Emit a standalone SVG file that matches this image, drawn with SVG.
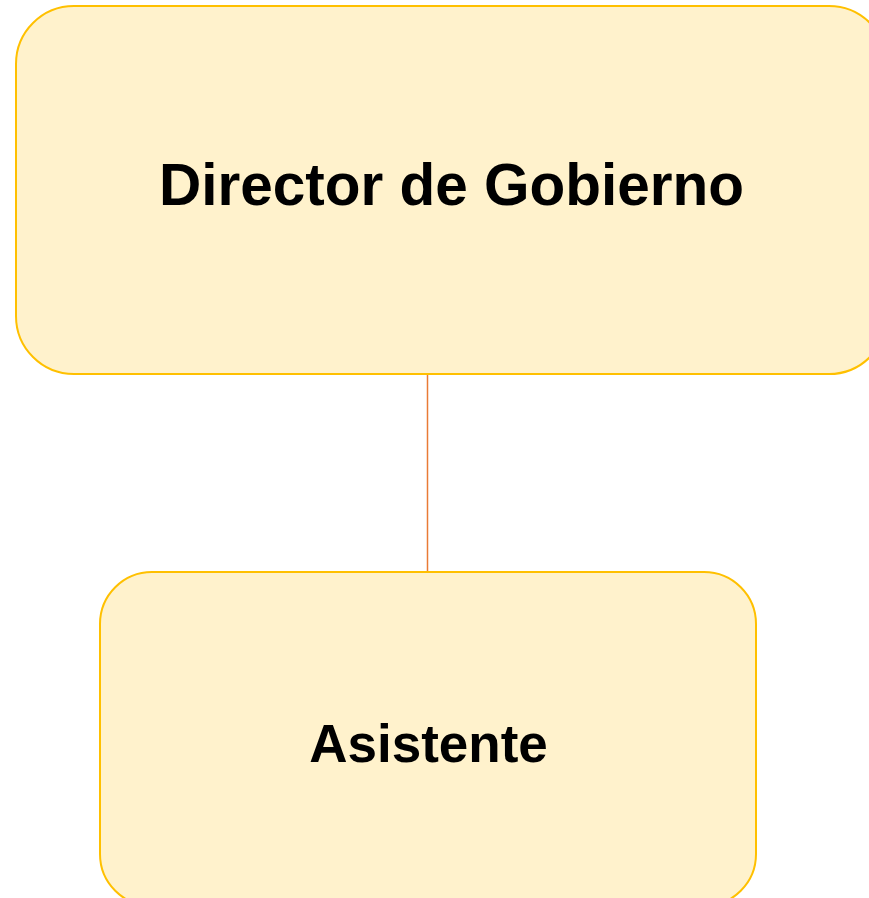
<svg xmlns="http://www.w3.org/2000/svg" width="869" height="898" viewBox="0 0 869 898">
<style>
.box{fill:#FFF2CC;stroke:#FFC000;stroke-width:2}
.lbl{font-family:"Liberation Sans",Arial,sans-serif;font-weight:bold;fill:#000;text-anchor:middle}
.edge{stroke:#E97B35;stroke-width:1.5;fill:none}
</style>
<rect width="869" height="898" fill="#FFFFFF"/>
<g id="connectors">
<line class="edge" x1="427.5" y1="374" x2="427.5" y2="572"/>
</g>
<g id="director">
<rect class="box" x="16" y="6" width="871" height="368" rx="58" ry="58"/>
<text class="lbl" x="451.5" y="205" font-size="58.5">Director de Gobierno</text>
</g>
<g id="asistente">
<rect class="box" x="100" y="572" width="656" height="334" rx="52" ry="52"/>
<text class="lbl" x="428.5" y="762" font-size="53">Asistente</text>
</g>
</svg>
